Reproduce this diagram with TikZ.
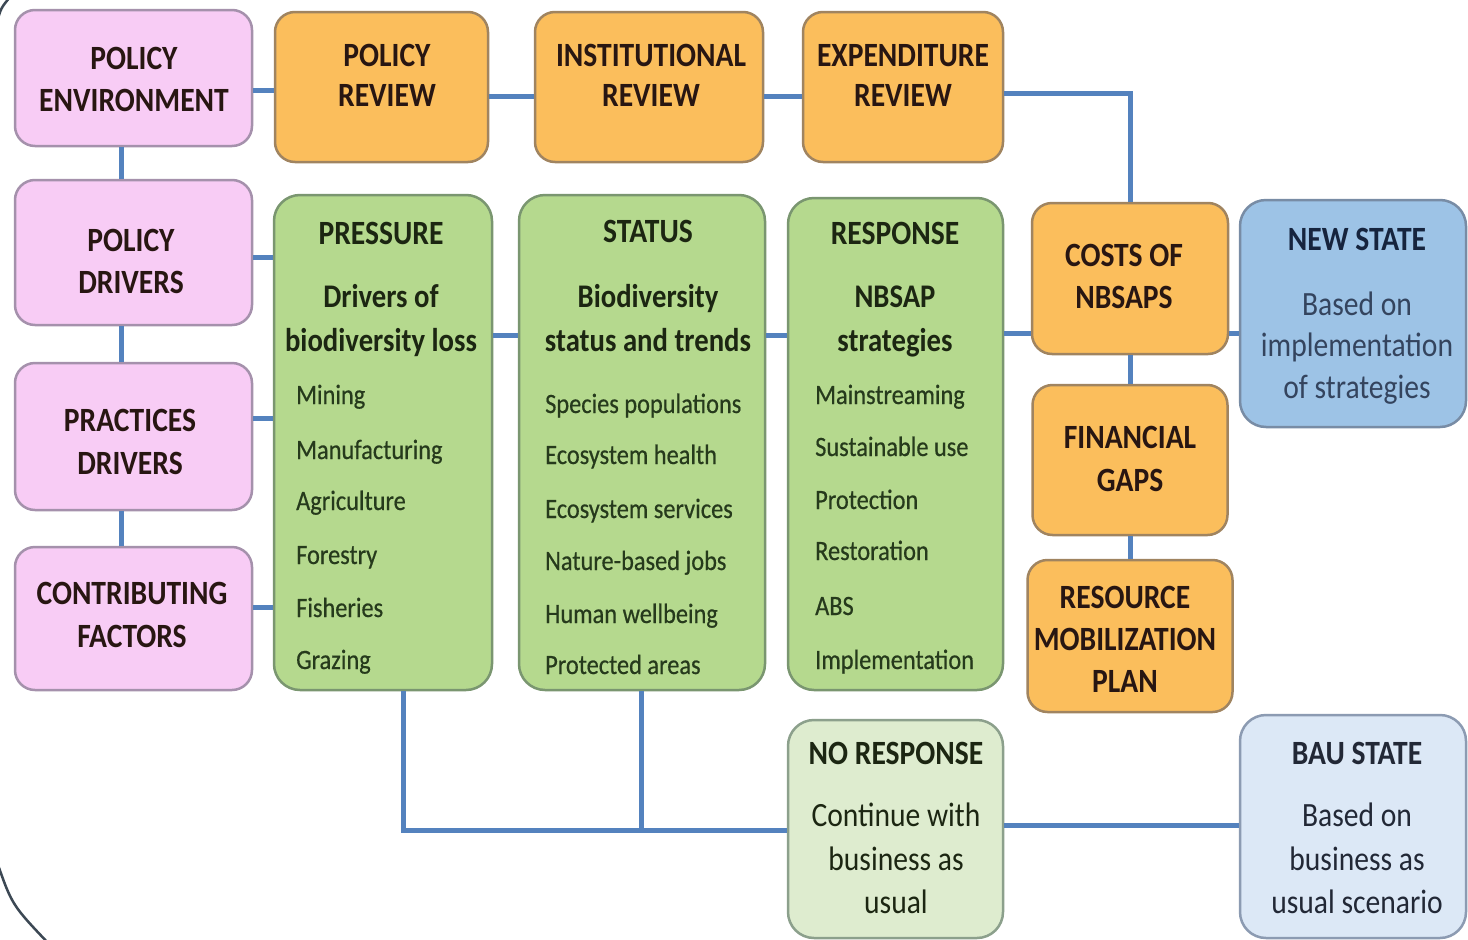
\documentclass[tikz,border=0pt]{standalone}
\usepackage{fontspec}
\setmainfont{Carlito}[FakeStretch=0.87]
\newfontfamily\itemfont{Carlito}[FakeStretch=0.87, FakeBold=0.5]
\definecolor{pinkF}{RGB}{248,204,245}
\definecolor{pinkD}{RGB}{165,145,172}
\definecolor{oranF}{RGB}{251,190,92}
\definecolor{oranD}{RGB}{160,132,96}
\definecolor{grnF}{RGB}{181,217,142}
\definecolor{grnD}{RGB}{122,150,112}
\definecolor{bluF}{RGB}{157,195,230}
\definecolor{bluD}{RGB}{120,140,165}
\definecolor{lgrF}{RGB}{222,236,207}
\definecolor{lgrD}{RGB}{140,160,140}
\definecolor{lbluF}{RGB}{220,232,246}
\definecolor{lbluD}{RGB}{140,155,178}
\definecolor{lineC}{RGB}{84,130,190}
\definecolor{ttlC}{RGB}{40,22,18}
\definecolor{grnT}{RGB}{28,38,18}
\definecolor{itemC}{RGB}{38,58,28}
\definecolor{navyT}{RGB}{22,36,62}
\definecolor{bluT}{RGB}{52,68,94}
\definecolor{bauT}{RGB}{34,40,54}
\definecolor{arcC}{RGB}{60,72,84}
\newcommand\Txt[5]{\node[#1] (#2) at (#3,#4) {#5};}
\tikzset{
  box/.style={draw, line width=2.5pt, rounded corners=20pt, inner sep=0pt},
  pinkbox/.style={box, fill=pinkF, draw=pinkD},
  oranbox/.style={box, fill=oranF, draw=oranD},
  grnbox/.style={box, fill=grnF, draw=grnD, rounded corners=26pt},
  blubox/.style={box, fill=bluF, draw=bluD, rounded corners=26pt},
  lgrbox/.style={box, fill=lgrF, draw=lgrD, rounded corners=26pt},
  lblubox/.style={box, fill=lbluF, draw=lbluD, rounded corners=26pt},
  conn/.style={draw=lineC, line width=5pt},
  arcline/.style={draw=arcC, line width=2.5pt},
  ttl/.style={font=\bfseries\fontsize{34}{34}\selectfont, anchor=base, inner sep=0pt, text=ttlC},
  gttl/.style={ttl, text=grnT},
  sub/.style={font=\bfseries\fontsize{33}{33}\selectfont, anchor=base, inner sep=0pt, text=grnT},
  itm/.style={font=\itemfont\fontsize{28}{28}\selectfont, anchor=base west, inner sep=0pt, text=itemC},
  bod/.style={font=\fontsize{34}{34}\selectfont, anchor=base, inner sep=0pt},
}
\begin{document}
\begin{tikzpicture}[x=1pt,y=-1pt]
\useasboundingbox (0,0) rectangle (1468,940);
\clip (0,0) rectangle (1468,940);
\fill[white] (0,0) rectangle (1468,940);
% outer arc fragments
\draw[arcline] (-3,22) .. controls (1,8) .. (10,-3);
\draw[arcline] (-3,862) .. controls (12,905) .. (50,945);
% boxes
\node[pinkbox, minimum width=237pt, minimum height=136pt] (pe) at (133.5,78) {};
\node[pinkbox, minimum width=237pt, minimum height=145pt] (pd) at (133.5,252.5) {};
\node[pinkbox, minimum width=237pt, minimum height=147pt] (prd) at (133.5,436.5) {};
\node[pinkbox, minimum width=237pt, minimum height=143pt] (cf) at (133.5,618.5) {};
\node[oranbox, minimum width=213pt, minimum height=150pt] (pr) at (381.5,87) {};
\node[oranbox, minimum width=228pt, minimum height=150pt] (ir) at (649,87) {};
\node[oranbox, minimum width=200pt, minimum height=150pt] (er) at (903,87) {};
\node[grnbox, minimum width=218pt, minimum height=495pt] (pres) at (383,442.5) {};
\node[grnbox, minimum width=246pt, minimum height=495pt] (stat) at (642,442.5) {};
\node[grnbox, minimum width=215pt, minimum height=492pt] (resp) at (895.5,444) {};
\node[oranbox, minimum width=196pt, minimum height=151pt] (cost) at (1130,278.5) {};
\node[oranbox, minimum width=195pt, minimum height=150pt] (fin) at (1130,460) {};
\node[oranbox, minimum width=205pt, minimum height=152pt] (rmp) at (1130,636) {};
\node[blubox, minimum width=226pt, minimum height=227pt] (ns) at (1353,313.5) {};
\node[lgrbox, minimum width=215pt, minimum height=218pt] (nr) at (895.5,829) {};
\node[lblubox, minimum width=226pt, minimum height=223pt] (bau) at (1353,826.5) {};
% connectors
\draw[conn] (pe.east |- 0,90) -- (pr.west |- 0,90);
\draw[conn] (pr.east |- 0,96) -- (ir.west |- 0,96);
\draw[conn] (ir.east |- 0,96) -- (er.west |- 0,96);
\draw[conn] (er.east |- 0,93) -| (cost.north);
\draw[conn] (pe.south -| 121,0) -- (pd.north -| 121,0);
\draw[conn] (pd.south -| 121,0) -- (prd.north -| 121,0);
\draw[conn] (prd.south -| 121,0) -- (cf.north -| 121,0);
\draw[conn] (pd.east |- 0,257) -- (pres.west |- 0,257);
\draw[conn] (prd.east |- 0,418) -- (pres.west |- 0,418);
\draw[conn] (cf.east |- 0,607) -- (pres.west |- 0,607);
\draw[conn] (pres.east |- 0,335) -- (stat.west |- 0,335);
\draw[conn] (stat.east |- 0,335) -- (resp.west |- 0,335);
\draw[conn] (resp.east |- 0,333) -- (cost.west |- 0,333);
\draw[conn] (cost.east |- 0,333) -- (ns.west |- 0,333);
\draw[conn] (cost.south) -- (fin.north);
\draw[conn] (fin.south) -- (rmp.north);
\coordinate (j) at (641,830);
\draw[conn] (pres.south -| 403,0) |- (nr.west |- 0,830);
\draw[conn] (stat.south -| j) -- (j);
\draw[conn] (nr.east |- 0,825) -- (bau.west |- 0,825);
% texts: pink
\Txt{ttl}{t1}{134}{69}{POLICY}
\Txt{ttl}{t2}{134}{111}{ENVIRONMENT}
\Txt{ttl}{t3}{131}{251}{POLICY}
\Txt{ttl}{t4}{131}{293}{DRIVERS}
\Txt{ttl}{t5}{130}{431}{PRACTICES}
\Txt{ttl}{t6}{130}{474}{DRIVERS}
\Txt{ttl}{t7}{132}{604}{CONTRIBUTING}
\Txt{ttl}{t8}{132}{647}{FACTORS}
% orange top
\Txt{ttl}{t9}{387}{66}{POLICY}
\Txt{ttl}{t10}{387}{106}{REVIEW}
\Txt{ttl}{t11}{651}{66}{INSTITUTIONAL}
\Txt{ttl}{t12}{651}{106}{REVIEW}
\Txt{ttl}{t13}{903}{66}{EXPENDITURE}
\Txt{ttl}{t14}{903}{106}{REVIEW}
% orange right
\Txt{ttl}{t15}{1124}{266}{COSTS OF}
\Txt{ttl}{t16}{1124}{308}{NBSAPS}
\Txt{ttl}{t17}{1130}{448}{FINANCIAL}
\Txt{ttl}{t18}{1130}{491}{GAPS}
\Txt{ttl}{t19}{1125}{608}{RESOURCE}
\Txt{ttl}{t20}{1125}{650}{MOBILIZATION}
\Txt{ttl}{t21}{1125}{692}{PLAN}
% green
\Txt{gttl}{t22}{381}{244}{PRESSURE}
\Txt{sub}{t23}{381}{307}{Drivers of}
\Txt{sub}{t24}{381}{351}{biodiversity loss}
\Txt{gttl}{t25}{648}{242}{STATUS}
\Txt{sub}{t26}{648}{307}{Biodiversity}
\Txt{sub}{t27}{648}{351}{status and trends}
\Txt{gttl}{t28}{895}{244}{RESPONSE}
\Txt{sub}{t29}{895}{307}{NBSAP}
\Txt{sub}{t30}{895}{351}{strategies}
% items
\Txt{itm}{i1}{296}{404}{Mining}
\Txt{itm}{i2}{296}{459}{Manufacturing}
\Txt{itm}{i3}{296}{510}{Agriculture}
\Txt{itm}{i4}{296}{564}{Forestry}
\Txt{itm}{i5}{296}{617}{Fisheries}
\Txt{itm}{i6}{296}{669}{Grazing}
\Txt{itm}{i7}{545}{413}{Species populations}
\Txt{itm}{i8}{545}{464}{Ecosystem health}
\Txt{itm}{i9}{545}{518}{Ecosystem services}
\Txt{itm}{i10}{545}{570}{Nature-based jobs}
\Txt{itm}{i11}{545}{623}{Human wellbeing}
\Txt{itm}{i12}{545}{674}{Protected areas}
\Txt{itm}{i13}{815}{404}{Mainstreaming}
\Txt{itm}{i14}{815}{456}{Sustainable use}
\Txt{itm}{i15}{815}{509}{Protection}
\Txt{itm}{i16}{815}{560}{Restoration}
\Txt{itm}{i17}{815}{615}{ABS}
\Txt{itm}{i18}{815}{669}{Implementation}
% new state
\Txt{ttl, text=navyT}{t31}{1357}{250}{NEW STATE}
\Txt{bod, text=bluT}{t32}{1357}{315}{Based on}
\Txt{bod, text=bluT}{t33}{1357}{356}{implementation}
\Txt{bod, text=bluT}{t34}{1357}{398}{of strategies}
% no response
\Txt{gttl}{t35}{896}{764}{NO RESPONSE}
\Txt{bod, text=grnT}{t36}{896}{826}{Continue with}
\Txt{bod, text=grnT}{t37}{896}{870}{business as}
\Txt{bod, text=grnT}{t38}{896}{913}{usual}
% bau
\Txt{ttl, text=bauT}{t39}{1357}{764}{BAU STATE}
\Txt{bod, text=bauT}{t40}{1357}{826}{Based on}
\Txt{bod, text=bauT}{t41}{1357}{870}{business as}
\Txt{bod, text=bauT}{t42}{1357}{913}{usual scenario}
\end{tikzpicture}
\end{document}
